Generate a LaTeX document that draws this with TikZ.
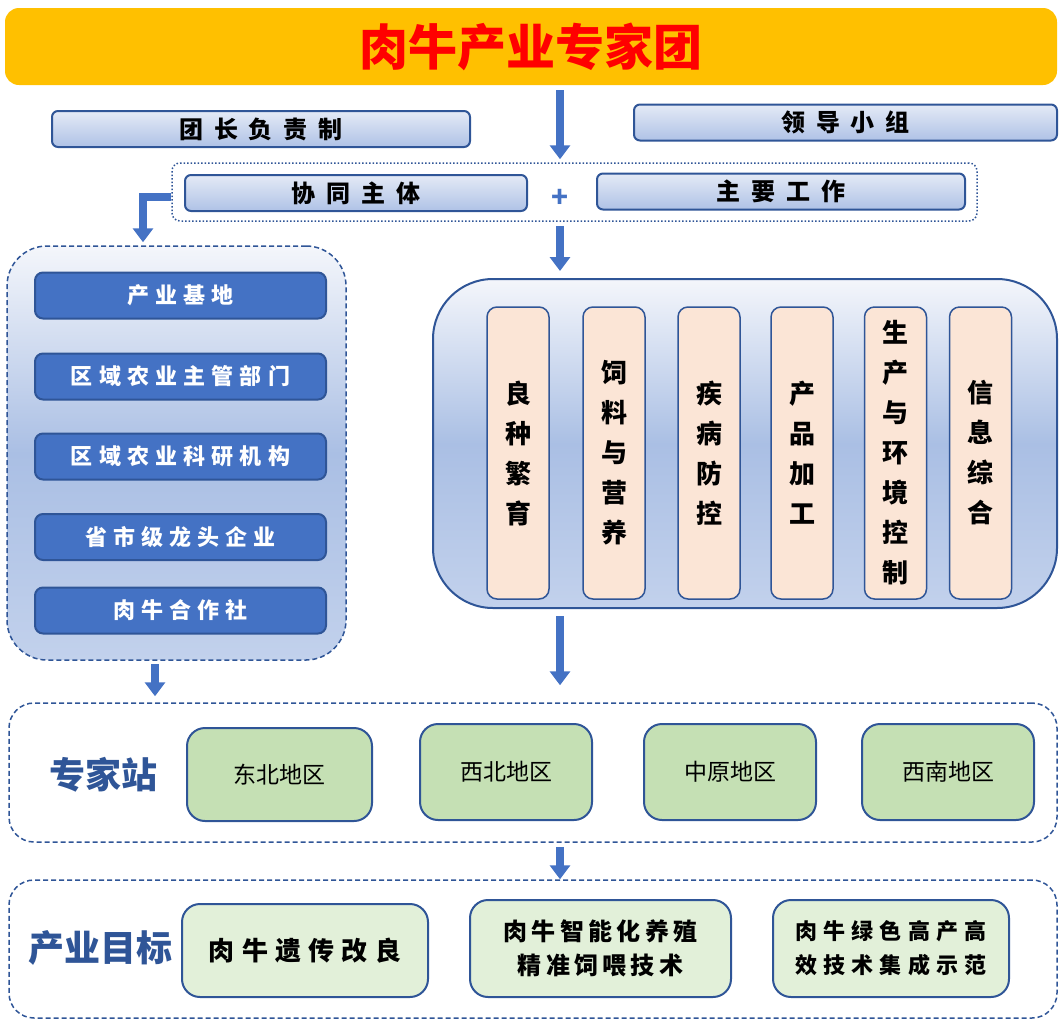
\documentclass[tikz,border=0pt]{standalone}
\usepackage{fontspec}
\setmainfont{Noto Sans CJK SC}
\newfontfamily\cjkwide[LetterSpace=45]{Noto Sans CJK SC}
\newfontfamily\cjkmid[LetterSpace=28]{Noto Sans CJK SC}
\usepackage{tikz}
\usetikzlibrary{arrows.meta}

\definecolor{gold}{HTML}{FFC000}
\definecolor{edge}{HTML}{2F5597}
\definecolor{flowblue}{HTML}{4472C4}
\definecolor{bartop}{HTML}{E4EAF6}
\definecolor{barbot}{HTML}{AFC2E6}
\definecolor{grptop}{HTML}{F4F6FB}
\definecolor{grpmid}{HTML}{AABFE4}
\definecolor{grpbot}{HTML}{C2D1EC}
\definecolor{peach}{HTML}{FBE5D6}
\definecolor{leaf}{HTML}{C5E0B4}
\definecolor{paleleaf}{HTML}{E2F0D9}

\begin{document}
\begin{tikzpicture}[
    x=1pt, y=-1pt,
    title/.style={fill=gold, rounded corners=14pt, minimum width=1052pt, minimum height=77pt,
        text=red, font=\fontsize{49}{50}\selectfont\bfseries},
    bar/.style={draw=edge, line width=2pt, rounded corners=6pt, top color=bartop, bottom color=barbot,
        minimum height=36pt, inner sep=0pt, font=\cjkwide\fontsize{24}{26}\selectfont\bfseries},
    darkbox/.style={draw=edge, line width=2pt, rounded corners=8pt, fill=flowblue, text=white,
        minimum width=291pt, minimum height=46pt, font=\cjkmid\fontsize{22}{24}\selectfont\bfseries},
    colbox/.style={draw=edge, line width=1.5pt, rounded corners=10pt, fill=peach, align=center,
        minimum width=62pt, minimum height=292pt, font=\fontsize{26}{40}\selectfont\bfseries},
    regbox/.style={draw=edge, line width=2pt, rounded corners=18pt, fill=leaf,
        minimum width=172pt, minimum height=96pt, font=\fontsize{23}{25}\selectfont},
    goalbox/.style={draw=edge, line width=2pt, rounded corners=18pt, fill=paleleaf, align=center,
        minimum height=97pt, font=\fontsize{24}{34}\selectfont\bfseries},
    group/.style={draw=edge, line width=1.5pt, dash pattern=on 5pt off 3pt, inner sep=0pt},
    grouplabel/.style={text=edge, font=\fontsize{36}{38}\selectfont\bfseries},
    flow/.style={draw=flowblue, line width=8pt, -{Triangle[width=20pt,length=14pt]}}
]
    \useasboundingbox (0,0) rectangle (1059,1020);

    % Kopf und Leitung
    \node [title] (title) at (531,46.5) {肉牛产业专家团};
    \node [bar, minimum width=418pt] (lead) at (261,129) {团长负责制};
    \node [bar, minimum width=423pt] (leadgroup) at (845.5,122.5) {领导小组};
    \node [draw=edge, line width=1.5pt, dotted, rounded corners=8pt,
        minimum width=805pt, minimum height=58pt] (teamwrap) at (574.5,192) {};
    \node [bar, minimum width=342pt] (cowork) at (356,193) {协同主体};
    \node [text=flowblue, font=\fontsize{28}{28}\selectfont\bfseries] (plus) at (560,198) {+};
    \node [bar, minimum width=368pt] (mainwork) at (781,191.5) {主要工作};

    % Linke Gruppe: Beteiligte
    \node [group, rounded corners=40pt, top color=grptop, bottom color=grpbot, middle color=grpmid,
        minimum width=339pt, minimum height=414pt] (partners) at (176.5,453) {};
    \node [darkbox] (base) at (180.5,295.5) {产业基地};
    \node [darkbox] (admin) at (180.5,376.5) {区域农业主管部门};
    \node [darkbox] (research) at (180.5,456.5) {区域农业科研机构};
    \node [darkbox] (firms) at (180.5,537) {省市级龙头企业};
    \node [darkbox] (coop) at (180.5,610.5) {肉牛合作社};

    % Rechte Gruppe: Arbeitsfelder
    \node [draw=edge, line width=2pt, rounded corners=60pt, top color=grptop, bottom color=grpbot,
        middle color=grpmid, minimum width=624pt, minimum height=329pt] (work) at (745,443.5) {};
    \node [colbox] (breed) at (518,453) {良\\种\\繁\\育};
    \node [colbox] (feed) at (614,453) {饲\\料\\与\\营\\养};
    \node [colbox] (disease) at (709,453) {疾\\病\\防\\控};
    \node [colbox] (process) at (802,453) {产\\品\\加\\工};
    \node [colbox] (environ) at (895.5,453) {生\\产\\与\\环\\境\\控\\制};
    \node [colbox] (info) at (980.5,453) {信\\息\\综\\合};

    % Expertenstationen
    \node [group, rounded corners=25pt, minimum width=1048pt, minimum height=139pt] (station) at (533,772.5) {};
    \node [grouplabel] (stationlabel) at (103,775) {专家站};
    \node [regbox, minimum width=185pt, minimum height=93pt] (northeast) at (279.5,774.5) {东北地区};
    \node [regbox] (northwest) at (506,772) {西北地区};
    \node [regbox] (central) at (730,772) {中原地区};
    \node [regbox] (southwest) at (948,772) {西南地区};

    % Ziele
    \node [group, rounded corners=25pt, minimum width=1048pt, minimum height=138pt] (goal) at (533,949) {};
    \node [grouplabel] (goallabel) at (100,948) {产业目标};
    \node [goalbox, minimum width=246pt, minimum height=93pt, font=\cjkmid\fontsize{26}{34}\selectfont\bfseries]
        (genetics) at (305,950.5) {肉牛遗传改良};
    \node [goalbox, minimum width=261pt, font=\fontsize{24}{34}\selectfont\bfseries\addfontfeatures{LetterSpace=18}]
        (smartfeed) at (600.5,948.5) {肉牛智能化养殖\\精准饲喂技术};
    \node [goalbox, minimum width=236pt, font=\fontsize{22}{34}\selectfont\bfseries\addfontfeatures{LetterSpace=28}]
        (green) at (891,948.5) {肉牛绿色高产高\\效技术集成示范};

    % Pfeile
    \draw [flow, shorten <=5pt, shorten >=3pt] (title.south -| plus) -- (teamwrap.north -| plus);
    \draw [flow, shorten <=4pt, shorten >=7pt] (teamwrap.south -| plus) -- (work.north -| plus);
    \draw [flow, shorten >=3pt] ([yshift=-5pt]teamwrap.west) -| ([xshift=-33.5pt]partners.north);
    \draw [flow, shorten <=3pt, shorten >=6pt] ([xshift=-21.5pt]partners.south) -- ([xshift=-21.5pt]partners.south |- station.north);
    \draw [flow, shorten <=7pt, shorten >=17pt] (work.south -| plus) -- (station.north -| plus);
    \draw [flow, shorten <=4pt] (station.south -| plus) -- (goal.north -| plus);

\end{tikzpicture}
\end{document}
